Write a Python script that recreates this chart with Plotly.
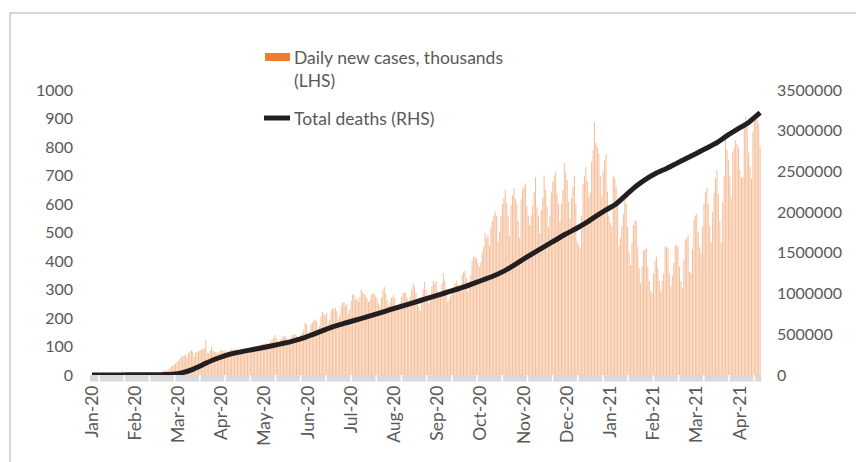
import pandas as pd
import plotly.graph_objects as go

# ---------------- data ----------------
start_date = "2020-01-22"

# Daily new cases, thousands (one row = one week, Wed..Tue)
daily_cases_k = [
    0.6, 0.1, 0.3, 0.5, 0.7, 0.8, 1.8,
    1.5, 1.7, 2.1, 2.6, 2.8, 3.2, 3.9,
    3.7, 3.2, 3.4, 2.7, 3.0, 2.6, 2.0,
    15.1, 6.5, 2.1, 2.6, 2.1, 2.0, 1.9,
    0.5, 0.6, 1.0, 0.8, 1.3, 0.9, 1.2,
    1.5, 1.3, 1.9, 1.8, 1.9, 2.4, 2.6,
    3.5, 4.5, 5.5, 6, 7, 9, 10,
    12, 14, 17, 15, 18, 24, 30,
    33, 36, 40, 45, 50, 58, 64,
    66, 68, 72, 62, 76, 82, 88,
    82, 64, 78, 80, 84, 86, 90,
    90, 95, 123, 78, 76, 88, 98,
    86, 82, 80, 76, 78, 84, 88,
    85, 82, 86, 80, 84, 88, 92,
    90, 88, 92, 78, 82, 90, 95,
    92, 90, 95, 76, 80, 92, 96,
    100, 98, 102, 88, 95, 104, 108,
    110, 106, 112, 95, 100, 118, 126,
    128, 140, 130, 108, 112, 125, 130,
    135, 138, 130, 112, 118, 132, 140,
    140, 145, 138, 120, 128, 142, 147,
    160, 184, 176, 140, 150, 178, 185,
    190, 196, 188, 160, 170, 205, 222,
    212, 210, 218, 180, 195, 225, 236,
    230, 236, 225, 195, 210, 240, 254,
    255, 240, 250, 215, 230, 260, 284,
    280, 263, 270, 257, 275, 298, 290,
    285, 280, 270, 256, 262, 280, 287,
    284, 275, 268, 250, 240, 270, 300,
    309, 285, 262, 243, 255, 270, 280,
    270, 245, 228, 232, 255, 275, 287,
    290, 287, 270, 250, 275, 300, 320,
    310, 288, 262, 240, 226, 274, 300,
    326, 300, 275, 250, 265, 312, 330,
    320, 330, 295, 275, 290, 320, 357,
    330, 300, 257, 265, 280, 292, 310,
    320, 331, 318, 298, 310, 351, 360,
    365, 340, 292, 310, 350, 400, 415,
    415, 410, 393, 380, 395, 430, 450,
    499, 480, 491, 455, 517, 540, 560,
    575, 560, 468, 500, 558, 600, 620,
    649, 603, 560, 488, 596, 630, 656,
    620, 603, 540, 480, 617, 652, 660,
    673, 593, 560, 526, 560, 593, 640,
    695, 589, 560, 498, 580, 621, 698,
    649, 590, 520, 560, 640, 678, 700,
    713, 638, 600, 538, 600, 649, 744,
    710, 684, 610, 547, 620, 660, 698,
    600, 468, 455, 445, 560, 670, 700,
    731, 680, 626, 640, 749, 789, 887,
    814, 800, 778, 700, 626, 713, 754,
    775, 643, 560, 533, 520, 698, 690,
    661, 614, 450, 480, 520, 565, 621,
    600, 520, 430, 386, 463, 526, 540,
    541, 450, 375, 322, 380, 436, 440,
    445, 380, 330, 296, 288, 357, 401,
    415, 375, 330, 292, 330, 357, 450,
    450, 445, 357, 310, 350, 393, 456,
    456, 450, 380, 330, 305, 403, 474,
    480, 491, 362, 357, 440, 544, 560,
    565, 499, 450, 428, 520, 600, 640,
    656, 600, 520, 463, 573, 640, 691,
    719, 635, 540, 463, 608, 700, 825,
    790, 754, 696, 621, 784, 800, 825,
    810, 796, 720, 691, 696, 881, 906,
    877, 780, 731, 688, 854, 890, 902,
    895, 880, 801,
]

# Total deaths, read weekly (every 7th day) plus the last day
total_deaths = [
    17, 133, 565, 1118, 2122, 2770, 3254, 4600, 9000, 30000,
    70000, 127000, 185000, 230000, 266000, 290000, 314000, 338000, 363000, 390000,
    420000, 455000, 503000, 550000, 596000, 633000, 669000, 705000, 742000, 779000,
    818000, 856000, 893000, 931000, 969000, 1007000, 1046000, 1085000, 1132000, 1177000,
    1225000, 1285000, 1358000, 1437000, 1513000, 1585000, 1658000, 1731000, 1796000, 1867000,
    1951000, 2029000, 2101000, 2212000, 2320000, 2408000, 2480000, 2536000, 2599000, 2662000,
    2724000, 2788000, 2853000, 2939000, 3017000, 3089000, 3192000, 3222000,
]

bar_name = "Daily new cases, thousands<br>(LHS)"
line_name = "Total deaths (RHS)"

dates = pd.date_range(start_date, periods=len(daily_cases_k), freq="D")
death_dates = list(dates[::7]) + [dates[-1]]

# ---------------- style ----------------
FAMILY = "Lato, 'Open Sans', sans-serif"
GREY = "#595959"
YFONT = dict(family=FAMILY, size=16, color=GREY)
XFONT = dict(family=FAMILY, size=17.5, color=GREY)
LFONT = dict(family=FAMILY, size=17.5, color=GREY)
ORANGE = "#ED7D31"
BLACK = "#231F20"

t0 = pd.Timestamp(start_date)
x_left = t0 - pd.Timedelta(days=1.4)
x_right = t0 + pd.Timedelta(days=465.3)
DAY_MS = 86400000

# page-pixel -> paper helpers (plot area spans x 90..762, y 90..375 on the page)
def px(X):
    return (X - 90) / 672

def py(Y):
    return (375 - Y) / 285

fig = go.Figure()
fig.add_trace(go.Bar(
    x=dates, y=daily_cases_k, name=bar_name.replace("<br>", " "), showlegend=False,
    yaxis="y", marker=dict(color="rgba(237,125,49,0.5)", line=dict(width=0)),
))
fig.add_trace(go.Scatter(
    x=death_dates, y=total_deaths, name=line_name, mode="lines", yaxis="y2",
    showlegend=False, line=dict(color=BLACK, width=5, shape="spline", smoothing=0.6),
    cliponaxis=False,
))

shapes = [
    # outer chart frame (continues beyond the picture edge)
    dict(type="rect", xref="paper", yref="paper",
         x0=px(10), x1=1.4, y0=-0.6, y1=py(13),
         line=dict(color="#C9C9C9", width=1.5), fillcolor="rgba(0,0,0,0)", layer="below"),
    # grey category-axis band
    dict(type="rect", xref="paper", yref="paper", x0=0, x1=0.999, y0=-6.5 / 285, y1=0,
         line=dict(width=0), fillcolor="#D9D9D9", layer="below"),
    # legend swatches
    dict(type="rect", xref="paper", yref="paper", x0=px(265), x1=px(290), y0=py(61), y1=py(53),
         line=dict(width=0), fillcolor=ORANGE),
    dict(type="line", xref="paper", yref="paper", x0=px(264), x1=px(290), y0=py(118), y1=py(118),
         line=dict(color=BLACK, width=5)),
]
k = 0
while True:
    tx = t0 + pd.Timedelta(days=4.9 + 17.5 * k)
    if tx > t0 + pd.Timedelta(days=464):
        break
    shapes.append(dict(type="line", xref="x", yref="paper", x0=tx, x1=tx,
                       y0=-6.5 / 285, y1=0, line=dict(color="white", width=1.5), layer="below"))
    k += 1

annotations = [
    dict(text=bar_name, xref="paper", yref="paper", x=px(292), y=py(69),
         xanchor="left", yanchor="middle", align="left", showarrow=False, font=LFONT),
    dict(text=line_name, xref="paper", yref="paper", x=px(292), y=py(118),
         xanchor="left", yanchor="middle", align="left", showarrow=False, font=LFONT),
]

fig.update_layout(
    width=856, height=454, autosize=False,
    margin=dict(l=82, r=102, t=82, b=87),
    paper_bgcolor="white", plot_bgcolor="rgba(0,0,0,0)",
    font=YFONT, barmode="overlay", bargap=0.3,
    showlegend=False,
    xaxis=dict(type="date", range=[x_left, x_right], tick0=start_date, dtick=30 * DAY_MS,
               tickformat="%b-%y", tickangle=-90, showgrid=False, zeroline=False,
               showline=False, ticks="", ticklabelstandoff=6, tickfont=XFONT),
    yaxis=dict(range=[0, 1000], dtick=100, showgrid=False, zeroline=False, showline=False,
               ticks="", ticklabelstandoff=16, tickfont=YFONT),
    yaxis2=dict(range=[0, 3500000], dtick=500000, overlaying="y", side="right",
                tickformat="d", showgrid=False, zeroline=False, showline=False,
                ticks="", ticklabelstandoff=14, tickfont=YFONT),
    shapes=shapes,
    annotations=annotations,
)

fig.write_html("out.html")
